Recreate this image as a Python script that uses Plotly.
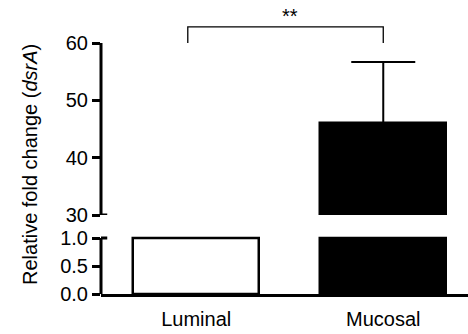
import plotly.graph_objects as go

categories = ["Luminal", "Mucosal"]
values = [1.0, 46.0]
errors = [0.0, 10.7]
fills = ["white", "black"]
lower_ticks = [0.0, 0.5, 1.0]
upper_ticks = [30, 40, 50, 60]
significance = "**"

LOW_MAX = 1.0
UP_MIN = 30

xs = list(range(len(categories)))
FONT = "Liberation Sans, Arial, sans-serif"

fig = go.Figure()

# lower segment
fig.add_trace(go.Bar(
    x=xs, y=[min(v, LOW_MAX) for v in values],
    marker=dict(color=fills, line=dict(color="black", width=2.5)),
    width=0.675, xaxis="x", yaxis="y", showlegend=False,
))
# upper segment
up_x = [x for x, v in zip(xs, values) if v > UP_MIN]
up_v = [v - UP_MIN for v in values if v > UP_MIN]
up_e = [e for e, v in zip(errors, values) if v > UP_MIN]
up_c = [c for c, v in zip(fills, values) if v > UP_MIN]
fig.add_trace(go.Bar(
    x=up_x, y=up_v, base=[UP_MIN] * len(up_v),
    marker=dict(color=up_c, line=dict(color="black", width=2.5)),
    width=0.675, xaxis="x", yaxis="y2", showlegend=False,
    error_y=dict(type="data", array=up_e, arrayminus=[0] * len(up_e),
                 symmetric=False, color="black", thickness=2, width=32),
))

axis_font = dict(family=FONT, size=20, color="black")

fig.update_layout(
    template="none",
    width=468, height=334,
    margin=dict(l=101, r=0, t=0, b=40, autoexpand=False),
    paper_bgcolor="white", plot_bgcolor="white",
    bargap=0,
    xaxis=dict(
        range=[-0.509, 1.453], tickvals=xs, ticktext=categories,
        showline=True, linecolor="black", linewidth=3, ticks="",
        showgrid=False, zeroline=False, tickfont=axis_font, anchor="y",
        ticklabelstandoff=5, automargin=False,
    ),
    yaxis=dict(
        domain=[0, 0.2], range=[0, 1.05], tickvals=lower_ticks,
        tickformat=".1f", ticks="outside", ticklen=8, tickwidth=3,
        tickcolor="black", showline=False, showgrid=False, zeroline=False,
        tickfont=axis_font, automargin=False,
    ),
    yaxis2=dict(
        domain=[0.2687, 1], range=[30, 67.5], tickvals=upper_ticks,
        ticks="outside", ticklen=8, tickwidth=3, tickcolor="black",
        showline=False, showgrid=False, zeroline=False, tickfont=axis_font,
        anchor="x", automargin=False,
    ),
)

# axis lines for the broken axis
fig.add_shape(type="line", xref="paper", yref="y", x0=0, x1=0,
              y0=0, y1=lower_ticks[-1], line=dict(color="black", width=3))
fig.add_shape(type="line", xref="paper", yref="y2", x0=0, x1=0,
              y0=upper_ticks[0], y1=upper_ticks[-1], line=dict(color="black", width=3))
# break ticks crossing the axis
fig.add_shape(type="line", xref="paper", yref="y", x0=0, x1=0.017,
              y0=lower_ticks[-1], y1=lower_ticks[-1], line=dict(color="black", width=3))
fig.add_shape(type="line", xref="paper", yref="y2", x0=0, x1=0.017,
              y0=upper_ticks[0], y1=upper_ticks[0], line=dict(color="black", width=3))

# significance bracket
bx0, bx1 = xs[0] - 0.045, xs[1]
btop, bbot = 62.8, upper_ticks[-1]
fig.add_shape(type="path", xref="x", yref="y2",
              path=f"M {bx0},{bbot} L {bx0},{btop} L {bx1},{btop} L {bx1},{bbot}",
              line=dict(color="black", width=1.3))
fig.add_annotation(x=(bx0 + bx1) / 2 + 0.025, y=btop, xref="x", yref="y2",
                   text=significance, showarrow=False, yanchor="bottom", yshift=-2,
                   font=dict(family=FONT, size=20, color="black"))

# y title
fig.add_annotation(x=(30 - 101) / 367, y=(294 - 165) / 294, xref="paper", yref="paper",
                   text="Relative fold change (<i>dsrA</i>)", showarrow=False,
                   textangle=-90, font=axis_font, xanchor="center", yanchor="middle")

fig.write_html("out.html", config={"displayModeBar": False},
               post_script="document.body.style.margin='0';")
